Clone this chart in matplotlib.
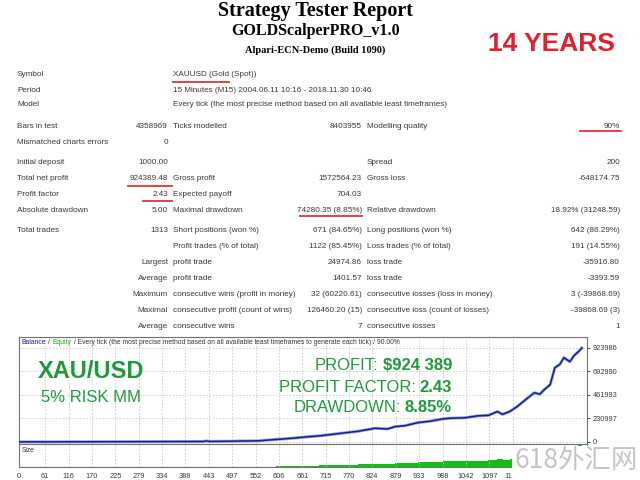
import matplotlib
matplotlib.use("Agg")
import matplotlib.pyplot as plt
from matplotlib.patches import Rectangle
from matplotlib.lines import Line2D

# report table rows: label, value, label, value, label, value
rows = [
    ("Symbol", "", "XAUUSD (Gold (Spot))", "", "", ""),
    ("Period", "", "15 Minutes (M15) 2004.06.11 10:16 - 2018.11.30 10:46", "", "", ""),
    ("Model", "", "Every tick (the most precise method based on all available least timeframes)", "", "", ""),
    ("Bars in test", "4358969", "Ticks modelled", "8403955", "Modelling quality", "90%"),
    ("Mismatched charts errors", "0", "", "", "", ""),
    ("Initial deposit", "1000.00", "", "", "Spread", "200"),
    ("Total net profit", "924389.48", "Gross profit", "1572564.23", "Gross loss", "-648174.75"),
    ("Profit factor", "2.43", "Expected payoff", "704.03", "", ""),
    ("Absolute drawdown", "5.00", "Maximal drawdown", "74280.35 (8.85%)", "Relative drawdown", "18.92% (31248.59)"),
    ("Total trades", "1313", "Short positions (won %)", "671 (84.65%)", "Long positions (won %)", "642 (86.29%)"),
    ("", "", "Profit trades (% of total)", "1122 (85.45%)", "Loss trades (% of total)", "191 (14.55%)"),
    ("", "Largest", "profit trade", "24974.86", "loss trade", "-35916.80"),
    ("", "Average", "profit trade", "1401.57", "loss trade", "-3393.59"),
    ("", "Maximum", "consecutive wins (profit in money)", "32 (60220.61)", "consecutive losses (loss in money)", "3 (-39868.69)"),
    ("", "Maximal", "consecutive profit (count of wins)", "126460.20 (15)", "consecutive loss (count of losses)", "-39868.69 (3)"),
    ("", "Average", "consecutive wins", "7", "consecutive losses", "1"),
]
row_y = [75, 90, 105, 126, 142, 163, 178, 194, 210, 231, 247, 263, 279, 295, 311, 326]

# balance curve (trade number, balance)
trades = [0, 100, 200, 300, 400, 432, 436, 445, 500, 560, 600, 640, 675, 700, 752, 790,
          831, 860, 877, 900, 930, 960, 990, 1007, 1040, 1070, 1095, 1116, 1128, 1145, 1162,
          1180, 1202, 1215, 1225, 1239, 1250, 1262, 1271, 1285, 1295, 1305, 1313]
balance = [1000, 1800, 2600, 3600, 4500, 5200, 11000, 5500, 8000, 12000, 25000, 38000, 52000,
           60000, 86000, 105000, 135000, 128000, 151000, 160000, 190000, 205000, 228000, 234000,
           238000, 257000, 262000, 299000, 272000, 300000, 348000, 410000, 484000, 470000,
           513000, 563000, 730000, 765000, 829000, 790000, 850000, 888000, 924389]
lots = [0.05, 0.09, 0.13, 0.18, 0.22, 0.26, 0.5, 0.28, 0.4, 0.6, 1.2, 1.9, 2.6, 3.0, 4.3, 5.2,
        6.7, 6.4, 7.5, 8.0, 9.5, 10.2, 11.4, 11.7, 11.9, 12.8, 13.1, 15.0, 13.6, 15.0, 17.4,
        20.5, 24.2, 23.5, 25.6, 28.1, 36.5, 38.2, 41.4, 39.5, 42.5, 44.4, 46.2]

y_ticks = [0, 230997, 461993, 692990, 923986]
x_ticks = [0, 61, 116, 170, 225, 279, 334, 388, 443, 497, 552, 606, 661, 715, 770,
           824, 879, 933, 988, 1042, 1097, 1152]

W, H = 640, 480
def fx(x):
    return x / W
def fy(y):
    return 1 - y / H

plt.rcParams['font.family'] = ['Liberation Sans', 'DejaVu Sans']
fig = plt.figure(figsize=(6.4, 4.8), dpi=100)
fig.patch.set_facecolor('white')
renderer = fig.canvas.get_renderer()

# header
serif = ['Liberation Serif', 'DejaVu Serif']
fig.text(fx(315), fy(11), "Strategy Tester Report", ha='center', va='center',
         fontsize=14.5, weight='bold', family=serif)
fig.text(fx(316), fy(31), "GOLDScalperPRO_v1.0", ha='center', va='center',
         fontsize=11.5, weight='bold', family=serif)
fig.text(fx(315), fy(50), "Alpari-ECN-Demo (Build 1090)", ha='center', va='center',
         fontsize=7.5, weight='bold', family=serif)
fig.text(fx(551), fy(44), "14 YEARS", ha='center', va='center', fontsize=19,
         weight='bold', color='#e0202c', family=['Liberation Sans Narrow', 'Liberation Sans'])

# table
tc = '#383838'
fs = 5.9
for r, y in zip(rows, row_y):
    fig.text(fx(17), fy(y), r[0], ha='left', va='center', fontsize=fs, color=tc)
    fig.text(fx(168), fy(y), r[1], ha='right', va='center', fontsize=fs, color=tc)
    fig.text(fx(173), fy(y), r[2], ha='left', va='center', fontsize=fs, color=tc)
    fig.text(fx(362), fy(y), r[3], ha='right', va='center', fontsize=fs, color=tc)
    fig.text(fx(367), fy(y), r[4], ha='left', va='center', fontsize=fs, color=tc)
    fig.text(fx(620), fy(y), r[5], ha='right', va='center', fontsize=fs, color=tc)

# red underlines
red = '#e03535'
for x0, x1, y in [(173, 229, 82), (580, 621, 131), (128, 172, 186), (143, 172, 201), (300, 362, 216)]:
    fig.add_artist(Line2D([fx(x0), fx(x1)], [fy(y), fy(y)], color=red, lw=1.3))

# balance chart
ax = fig.add_axes([fx(19), fy(444), (587 - 19) / W, (444 - 337) / H])
ax.plot(trades, balance, color='#8aa8e8', lw=2.2, zorder=2)
ax.plot(trades, balance, color='#1c1c8c', lw=1.1, zorder=3)
ax.set_xlim(0, 1325)
ax.set_ylim(-19660, 1032112)
ax.yaxis.tick_right()
ax.set_yticks(y_ticks)
ax.set_yticklabels([str(v) for v in y_ticks], fontsize=5.3, color=tc)
ax.set_xticks(x_ticks)
ax.tick_params(axis='x', length=0, labelbottom=False)
ax.tick_params(axis='y', length=2, pad=2, width=0.5)
ax.grid(True, color='#c8c8c8', ls=(0, (2, 2)), lw=0.6)
for s in ax.spines.values():
    s.set_color('#707070')
    s.set_linewidth(0.8)

# chart caption, pieces placed one after another
hx = 21
for part, col in [("Balance", '#1c1c8c'), (" / ", tc), ("Equity", '#20a020'),
                  (" / Every tick (the most precise method based on all available least timeframes "
                   "to generate each tick) / 90.00%", tc)]:
    t = fig.text(fx(hx), fy(342), part, fontsize=4.9, color=col, va='center', ha='left')
    hx = t.get_window_extent(renderer).x1 + 0.5

green = '#1f9a3a'
fig.text(fx(91), fy(372), "XAU/USD", ha='center', va='center', fontsize=17, weight='bold', color=green)
fig.text(fx(91), fy(397), "5% RISK MM", ha='center', va='center', fontsize=12, color=green)

def mixed(label, value, y):
    t = fig.text(fx(452), fy(y), value, ha='right', va='center', fontsize=12,
                 weight='bold', color=green)
    bb = t.get_window_extent(renderer)
    fig.text(fx(bb.x0 - 4), fy(y), label, ha='right', va='center', fontsize=12, color=green)

mixed("PROFIT:", "$924 389", 366)
mixed("PROFIT FACTOR:", "2.43", 387)
mixed("DRAWDOWN:", "8.85%", 408)

# size panel
sx = fig.add_axes([fx(19), fy(467), (587 - 19) / W, (467 - 444) / H])
sx.fill_between(trades, lots, step='post', color='#10c010', lw=0)
sx.set_xlim(0, 1325)
sx.set_ylim(0, 46)
sx.set_xticks(x_ticks)
sx.set_xticklabels([str(v) for v in x_ticks], fontsize=5.3, color=tc)
sx.set_yticks([])
sx.tick_params(axis='x', length=0, pad=4)
sx.grid(True, axis='x', color='#c8c8c8', ls=(0, (2, 2)), lw=0.6)
for s in sx.spines.values():
    s.set_color('#707070')
    s.set_linewidth(0.8)
sx.text(0.004, 0.7, "Size", transform=sx.transAxes, fontsize=4.8, color=tc, va='center')

# watermark box
fig.add_artist(Rectangle((fx(512), 0), 1 - fx(512), fy(446), transform=fig.transFigure,
                         facecolor='white', edgecolor='none', zorder=20))
fig.text(fx(576), fy(460), "618外汇网", ha='center', va='center', fontsize=19,
         color='#c4c4c4', family=['Noto Sans CJK SC', 'DejaVu Sans'], zorder=21)

fig.savefig("out.png", dpi=100, facecolor='white')
